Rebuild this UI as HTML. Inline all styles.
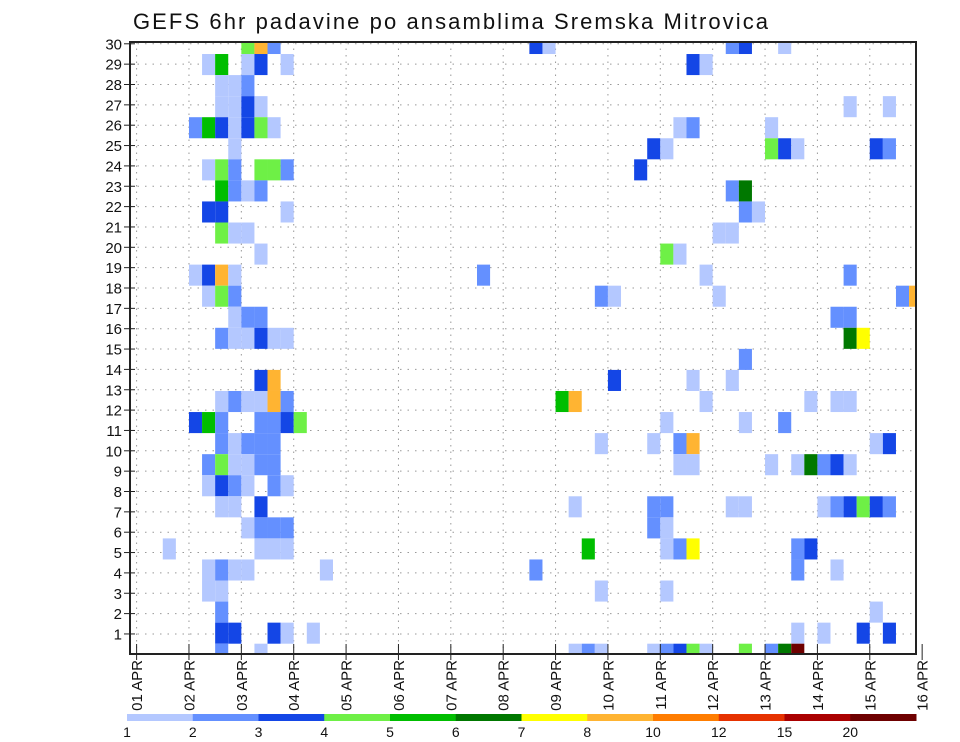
<!DOCTYPE html>
<html><head><meta charset="utf-8">
<style>
html,body{margin:0;padding:0;background:#fff;}
svg{display:block;font-family:"Liberation Sans","DejaVu Sans",sans-serif;}
</style></head>
<body>
<svg id="chart" width="960" height="742" viewBox="0 0 960 742" xmlns="http://www.w3.org/2000/svg">
<text x="133" y="29" font-size="22" textLength="635" lengthAdjust="spacing" fill="#111">GEFS 6hr padavine po ansamblima Sremska Mitrovica</text>
<g id="grid"></g>
<g id="cells"></g>
<rect x="130" y="42" width="786" height="612" fill="none" stroke="#222" stroke-width="2"/>
<g id="yaxis"></g>
<g id="xaxis"></g>
<g id="cbar"></g>
</svg>
<script>
// time step index (6-hourly from 01 APR 00Z)
const cellTime = [8,9,10,30,31,45,46,49, 5,6,8,9,11,42,43, 6,7,8, 6,7,8,9,54,57,
 4,5,6,7,8,9,10,41,42,48, 7,39,40,48,49,50,56,57, 5,6,7,9,10,11,38, 6,7,8,9,45,46,
 5,6,11,46,47, 6,7,8,44,45, 9,40,41, 4,5,6,7,26,43,54, 5,6,7,35,36,44,58,59,
 7,8,9,53,54, 6,7,8,9,10,11,54,55, 46, 9,10,36,42,45,
 6,7,8,9,10,11,32,33,43,51,53,54, 4,5,6,9,10,11,12,40,46,49,
 6,7,8,9,10,35,39,41,42,56,57, 5,6,7,8,9,10,41,42,48,50,51,52,53,54,
 5,6,7,8,10,11, 6,7,9,33,39,40,45,46,52,53,54,55,56,57,
 8,9,10,11,39,40, 2,9,10,11,34,40,41,42,50,51, 5,6,7,8,14,30,50,53,
 5,6,35,40, 6,56, 6,7,10,11,13,50,52,55,57,
 6,9,33,34,35,39,40,41,42,43,46,48,49,50];
// ensemble member row (0 = bottom)
const cellMember = [29,29,29,29,29,29,29,29, 28,28,28,28,28,28,28, 27,27,27, 26,26,26,26,26,26,
 25,25,25,25,25,25,25,25,25,25, 24,24,24,24,24,24,24,24, 23,23,23,23,23,23,23, 22,22,22,22,22,22,
 21,21,21,21,21, 20,20,20,20,20, 19,19,19, 18,18,18,18,18,18,18, 17,17,17,17,17,17,17,17,
 16,16,16,16,16, 15,15,15,15,15,15,15,15, 14, 13,13,13,13,13,
 12,12,12,12,12,12,12,12,12,12,12,12, 11,11,11,11,11,11,11,11,11,11,
 10,10,10,10,10,10,10,10,10,10,10, 9,9,9,9,9,9,9,9,9,9,9,9,9,9,
 8,8,8,8,8,8, 7,7,7,7,7,7,7,7,7,7,7,7,7,7,
 6,6,6,6,6,6, 5,5,5,5,5,5,5,5,5,5, 4,4,4,4,4,4,4,4,
 3,3,3,3, 2,2, 1,1,1,1,1,1,1,1,1,
 0,0,0,0,0,0,0,0,0,0,0,0,0,0];
// precipitation (mm / 6h)
const cellValue = [4.5,9,2.5,3.5,1.5,2.5,3.5,1.5, 1.5,5.5,1.5,3.5,1.5,3.5,1.5, 1.5,1.5,2.5, 1.5,1.5,3.5,1.5,1.5,1.5,
 2.5,5.5,3.5,1.5,3.5,4.5,1.5,1.5,2.5,1.5, 1.5,3.5,1.5,4.5,3.5,1.5,3.5,2.5, 1.5,4.5,2.5,4.5,4.5,2.5,3.5, 5.5,2.5,1.5,2.5,2.5,6.5,
 3.5,3.5,1.5,2.5,1.5, 4.5,1.5,1.5,1.5,1.5, 1.5,4.5,1.5, 1.5,3.5,9,1.5,2.5,1.5,2.5, 1.5,4.5,2.5,2.5,1.5,1.5,2.5,9,
 1.5,2.5,2.5,2.5,2.5, 2.5,1.5,1.5,3.5,1.5,1.5,6.5,7.5, 2.5, 3.5,9,3.5,1.5,1.5,
 1.5,2.5,1.5,1.5,9,2.5,5.5,9,1.5,1.5,1.5,1.5, 3.5,5.5,2.5,2.5,2.5,3.5,4.5,1.5,1.5,2.5,
 2.5,1.5,2.5,2.5,2.5,1.5,1.5,2.5,9,1.5,3.5, 2.5,4.5,1.5,1.5,2.5,2.5,1.5,1.5,1.5,1.5,6.5,2.5,3.5,1.5,
 1.5,3.5,2.5,1.5,2.5,1.5, 1.5,1.5,3.5,1.5,2.5,2.5,1.5,1.5,1.5,2.5,3.5,4.5,3.5,2.5,
 1.5,2.5,2.5,2.5,2.5,1.5, 1.5,1.5,1.5,1.5,5.5,1.5,2.5,7.5,2.5,3.5, 1.5,2.5,1.5,1.5,1.5,2.5,2.5,1.5,
 1.5,1.5,1.5,1.5, 2.5,1.5, 3.5,3.5,3.5,1.5,1.5,1.5,1.5,3.5,3.5,
 2.5,1.5,1.5,2.5,1.5,1.5,2.5,3.5,4.5,1.5,4.5,2.5,6.5,22];
const levels = [1,2,3,4,5,6,7,8,10,12,15,20];
const levelColors = ["#b4c8ff","#6490ff","#1446e6","#6ef046","#00be00","#007800","#ffff00","#ffb432","#ff7d00","#e63200","#aa0000","#6e0000"];
const dayLabels = ["01 APR","02 APR","03 APR","04 APR","05 APR","06 APR","07 APR","08 APR","09 APR","10 APR","11 APR","12 APR","13 APR","14 APR","15 APR","16 APR"];
const yTicks = [1,2,3,4,5,6,7,8,9,10,11,12,13,14,15,16,17,18,19,20,21,22,23,24,25,26,27,28,29,30];

const NS="http://www.w3.org/2000/svg";
const PL=130,PR=916,PT=42,PB=654;
const X0=136.6, DAY=52.37, STEP=DAY/4;
const xScale = t => X0 + t*STEP;
const cellTop = k => 643.7 - 21.06*k;
const CELLH = 21.06;
const yLab = v => 654.3 - 20.35*v;
function colorFor(v){let i=-1;for(let j=0;j<levels.length;j++) if(v>=levels[j]) i=j;return i<0?null:levelColors[i];}
function mk(tag,attrs,parent){const e=document.createElementNS(NS,tag);for(const a in attrs)e.setAttribute(a,attrs[a]);parent.appendChild(e);return e;}

const grid=document.getElementById('grid');
yTicks.forEach(v=>{
  const l=mk('line',{x1:PL,x2:PR,y1:yLab(v),y2:yLab(v),stroke:'#999','stroke-width':1,'stroke-dasharray':'1.5 6'},grid);
  
  
});
dayLabels.forEach((d,i)=>{
  const x=X0+i*DAY; if(x>PR-1) return;
  const l=mk('line',{x1:x,x2:x,y1:PT,y2:PB,stroke:'#999','stroke-width':1,'stroke-dasharray':'1.5 5'},grid);
  
  
});

const cg=document.getElementById('cells');
for(let i=0;i<cellTime.length;i++){
  const col=colorFor(cellValue[i]); if(!col) continue;
  let x=xScale(cellTime[i]), w=STEP;
  let y=cellTop(cellMember[i]), h=CELLH;
  if(y<PT){h-=PT-y;y=PT;}
  if(y+h>PB)h=PB-y;
  if(x+w>PR)w=PR-x;
  const r=mk('rect',{x:x.toFixed(2),y:y.toFixed(2),width:w.toFixed(2),height:h.toFixed(2),fill:col},cg);
  
  
}

const ya=document.getElementById('yaxis');
yTicks.forEach(v=>{
  const y=yLab(v);
  const t=mk('line',{x1:124,x2:135,y1:y,y2:y,stroke:'#222','stroke-width':1},ya);
  
  
  const tx=mk('text',{x:122,y:y+5.5,'font-size':15,'text-anchor':'end',fill:'#111'},ya);
  tx.textContent=v;
  
  
});

const xa=document.getElementById('xaxis');
dayLabels.forEach((d,i)=>{
  const x=X0+i*DAY;
  const t=mk('line',{x1:x,x2:x,y1:PB-10,y2:PB+6,stroke:'#222','stroke-width':1},xa);
  
  
  const tx=mk('text',{x:0,y:0,'font-size':15,'text-anchor':'end',fill:'#111',transform:`translate(${x+5.5},660) rotate(-90)`},xa);
  tx.textContent=d;
  
  
});

const cb=document.getElementById('cbar');
const CB0=127, CB1=916, SEG=(CB1-CB0)/levelColors.length;
levelColors.forEach((c,i)=>{
  const r=mk('rect',{x:CB0+i*SEG,y:714,width:SEG+0.5,height:7,fill:c},cb);
  
  
});
levels.forEach((v,i)=>{
  const tx=mk('text',{x:CB0+i*SEG,y:737,'font-size':14,'text-anchor':'middle',fill:'#111'},cb);
  tx.textContent=v;
  
  
});
</script>
</body></html>
